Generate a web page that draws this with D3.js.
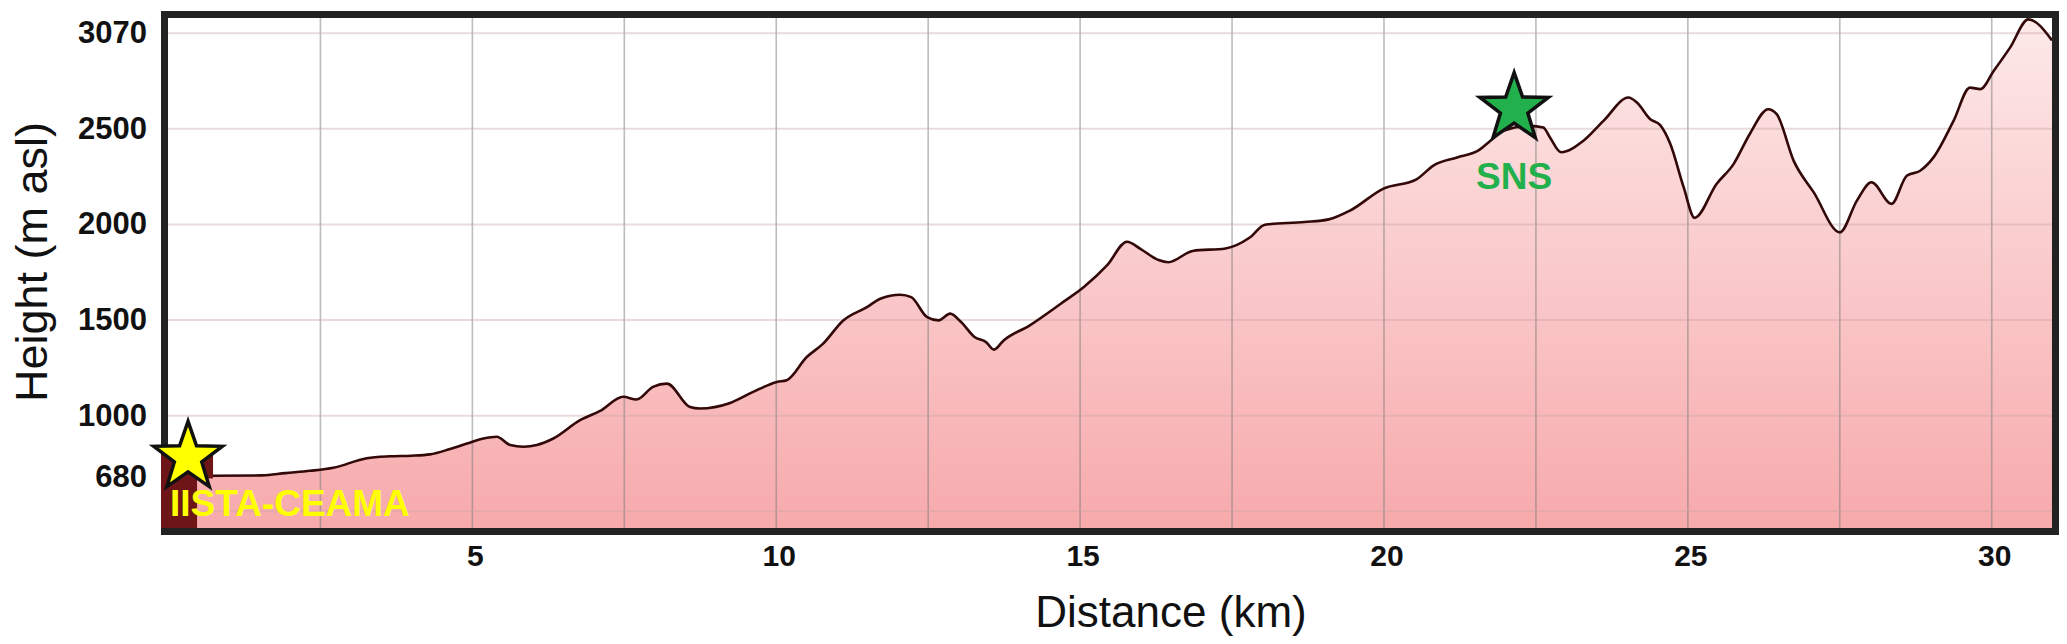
<!DOCTYPE html>
<html>
<head>
<meta charset="utf-8">
<script src="https://cdn.jsdelivr.net/npm/d3@7"></script>
<style>
  body { margin: 0; background: #fff; }
  svg { display: block; font-family: "Liberation Sans", Arial, sans-serif; }
</style>
</head>
<body>
<svg></svg>
<script>
// elevation profile
const distanceKm = [0, 0.74, 1.55, 1.93, 2.34, 2.72, 3.27, 3.65, 4.0, 4.31, 4.64, 4.92, 5.19, 5.41, 5.63, 5.85, 6.07, 6.34,
  6.78, 7.11, 7.49, 7.71, 7.98, 8.21, 8.59, 8.75, 9.25, 9.63, 10.02, 10.18, 10.51, 10.78, 11.11, 11.5, 11.72, 12.05,
  12.23, 12.49, 12.68, 12.87, 13.05, 13.27, 13.46, 13.59, 13.75, 14.18, 14.69, 15.07, 15.45, 15.78, 16.0, 16.3, 16.46,
  16.86, 17.4, 17.8, 18.05, 18.7, 19.1, 19.45, 20.0, 20.55, 20.82, 21.21, 21.57, 21.76, 21.97, 22.41, 22.63, 22.74,
  22.92, 23.29, 23.62, 24.03, 24.17, 24.39, 24.55, 24.72, 24.94, 25.12, 25.48, 25.76, 26.03, 26.33, 26.47, 26.75,
  27.08, 27.51, 27.79, 28.03, 28.36, 28.61, 28.83, 29.05, 29.38, 29.65, 29.82, 30.04, 30.31, 30.61, 31.0];
const heightM = [683, 683, 685, 697, 709, 725, 775, 785, 788, 795, 823, 852, 878, 887, 844, 835, 844, 878,
  974, 1022, 1096, 1082, 1148, 1165, 1043, 1035, 1064, 1122, 1174, 1183, 1304, 1374, 1495, 1565, 1609, 1630,
  1617, 1513, 1496, 1531, 1487, 1409, 1382, 1343, 1391, 1470, 1583, 1670, 1783, 1907, 1870, 1811, 1800,
  1859, 1872, 1929, 1996, 2010, 2024, 2070, 2185, 2235, 2305, 2348, 2386, 2435, 2487, 2513, 2504, 2452,
  2375, 2435, 2539, 2661, 2635, 2548, 2518, 2418, 2191, 2032, 2209, 2313, 2472, 2600, 2574, 2330,
  2165, 1956, 2122, 2218, 2105, 2252, 2278, 2348, 2539, 2713, 2705, 2800, 2922, 3070, 2960];

const xTickValues = [5, 10, 15, 20, 25, 30];
const xGridValues = [2.5, 5, 7.5, 10, 12.5, 15, 17.5, 20, 22.5, 25, 27.5, 30];
const yTickValues = [680, 1000, 1500, 2000, 2500, 3000];
const yTickLabels = ["680", "1000", "1500", "2000", "2500", "3070"];
const yGridValues = [500, 1000, 1500, 2000, 2500, 3000];

const siteNames = ["IISTA-CEAMA", "SNS"];
const siteKm = [0.33, 22.15];
const siteHeight = [779, 2603];

const siteColors = ["#ffff00", "#22b04c"];

var width = 2067, height = 644;
var margin = { top: 18, right: 15, bottom: 116, left: 168 };

var svg = d3.select("svg")
    .attr("width", width)
    .attr("height", height);

var x = d3.scaleLinear()
    .domain([0, 31])
    .range([margin.left, width - margin.right]);

var y = d3.scaleLinear()
    .domain([410, 3077])
    .range([height - margin.bottom, margin.top]);

var plotW = width - margin.right - margin.left;
var plotH = height - margin.bottom - margin.top;

var defs = svg.append("defs");
defs.append("clipPath").attr("id", "plotclip")
    .append("rect")
    .attr("x", margin.left).attr("y", margin.top)
    .attr("width", plotW).attr("height", plotH);

var grad = defs.append("linearGradient")
    .attr("id", "fillgrad")
    .attr("gradientUnits", "userSpaceOnUse")
    .attr("x1", 0).attr("y1", margin.top)
    .attr("x2", 0).attr("y2", height - margin.bottom);
grad.append("stop").attr("offset", 0).attr("stop-color", "#fde9e9");
grad.append("stop").attr("offset", 1).attr("stop-color", "#f7aaac");

var data = distanceKm.map(function (d, i) { return { km: d, h: heightM[i] }; });

var plot = svg.append("g").attr("clip-path", "url(#plotclip)");

// filled profile
plot.append("path")
    .datum(data)
    .attr("fill", "url(#fillgrad)")
    .attr("d", d3.area()
        .x(function (d) { return x(d.km); })
        .y0(height - margin.bottom)
        .y1(function (d) { return y(d.h); })
        .curve(d3.curveMonotoneX));

// grid lines, on top of the fill so they show through
plot.append("g")
    .attr("transform", "translate(0," + (height - margin.bottom) + ")")
    .call(d3.axisBottom(x).tickValues(xGridValues).tickSize(-plotH).tickFormat(""))
    .call(function (g) { g.select(".domain").remove(); })
    .selectAll("line")
    .attr("stroke", "#7a7a7a")
    .attr("stroke-opacity", 0.5)
    .attr("stroke-width", 1.6);

plot.append("g")
    .attr("transform", "translate(" + margin.left + ",0)")
    .call(d3.axisLeft(y).tickValues(yGridValues).tickSize(-plotW).tickFormat(""))
    .call(function (g) { g.select(".domain").remove(); })
    .selectAll("line")
    .attr("stroke", "#c9a4a4")
    .attr("stroke-opacity", 0.4)
    .attr("stroke-width", 2);

// profile line
plot.append("path")
    .datum(data)
    .attr("fill", "none")
    .attr("stroke", "#330808")
    .attr("stroke-width", 2.6)
    .attr("d", d3.line()
        .x(function (d) { return x(d.km); })
        .y(function (d) { return y(d.h); })
        .curve(d3.curveMonotoneX));

// frame
svg.append("rect")
    .attr("x", margin.left - 3.5)
    .attr("y", margin.top - 3.5)
    .attr("width", plotW + 7)
    .attr("height", plotH + 7)
    .attr("fill", "none")
    .attr("stroke", "#222")
    .attr("stroke-width", 7);

// axes
var xAxis = svg.append("g")
    .attr("transform", "translate(0," + (height - margin.bottom) + ")")
    .call(d3.axisBottom(x).tickValues(xTickValues).tickSize(0).tickPadding(17));
xAxis.select(".domain").remove();
xAxis.selectAll("text")
    .attr("dx", 3)
    .style("font-family", "'Liberation Sans', Arial, sans-serif")
    .style("font-size", "30px")
    .style("font-weight", "bold")
    .attr("fill", "#111");

var yAxis = svg.append("g")
    .attr("transform", "translate(" + margin.left + ",0)")
    .call(d3.axisLeft(y).tickValues(yTickValues).tickSize(0).tickPadding(21)
        .tickFormat(function (d, i) { return yTickLabels[i]; }));
yAxis.select(".domain").remove();
yAxis.selectAll("text")
    .style("font-family", "'Liberation Sans', Arial, sans-serif")
    .style("font-size", "31px")
    .style("font-weight", "bold")
    .attr("fill", "#111");

svg.append("text")
    .attr("x", 1171)
    .attr("y", 627)
    .attr("text-anchor", "middle")
    .style("font-size", "44px")
    .attr("fill", "#111")
    .text("Distance (km)");

svg.append("text")
    .attr("transform", "translate(47,262) rotate(-90)")
    .attr("text-anchor", "middle")
    .style("font-size", "45px")
    .attr("fill", "#111")
    .text("Height (m asl)");

// site markers
function starPath(cx, cy, r) {
    var pts = [];
    for (var i = 0; i < 10; i++) {
        var rr = i % 2 === 0 ? r : r * 0.4;
        var a = -Math.PI / 2 + i * Math.PI / 5;
        pts.push([cx + rr * Math.cos(a), cy + rr * Math.sin(a)]);
    }
    return "M" + pts.join("L") + "Z";
}

var sx0 = x(siteKm[0]), sy0 = y(siteHeight[0]);
// dark picture box behind the start marker
svg.append("rect")
    .attr("x", sx0 - 27).attr("y", sy0 - 12)
    .attr("width", 52).attr("height", 33)
    .attr("fill", "#6e1518");
svg.append("rect")
    .attr("x", sx0 - 27).attr("y", sy0 + 20)
    .attr("width", 36).attr("height", y(410) - sy0 - 20)
    .attr("fill", "#6e1518");

siteNames.forEach(function (name, i) {
    var cx = x(siteKm[i]), cy = y(siteHeight[i]);
    svg.append("path")
        .attr("d", starPath(cx, cy, 36))
        .attr("fill", siteColors[i])
        .attr("stroke", "#111")
        .attr("stroke-width", 3.5)
        .attr("stroke-linejoin", "miter");
    var t = svg.append("text")
        .style("font-size", "37px")
        .style("font-weight", "bold")
        .attr("fill", siteColors[i])
        .text(name);
    if (i === 0) {
        t.attr("x", cx - 18).attr("y", cy + 59).attr("text-anchor", "start");
    } else {
        t.attr("x", cx).attr("y", cy + 80).attr("text-anchor", "middle");
    }
});
</script>
</body>
</html>
